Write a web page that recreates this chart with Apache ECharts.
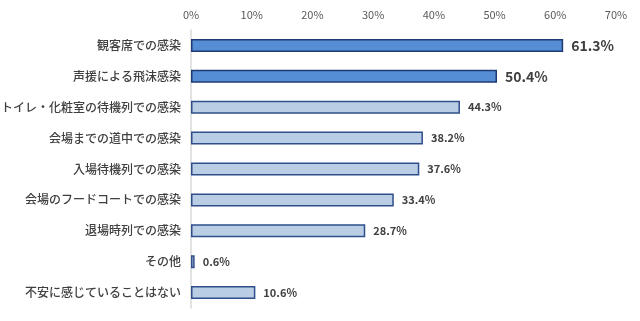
<!DOCTYPE html>
<html><head><meta charset="utf-8">
<script src="https://cdn.jsdelivr.net/npm/echarts@6/dist/echarts.min.js"></script>
<style>html,body{margin:0;padding:0;background:#fff}#c{width:640px;height:321px}</style>
</head><body><div id="c"></div>
<script>
const categories = ['観客席での感染','声援による飛沫感染','トイレ・化粧室の待機列での感染','会場までの道中での感染','入場待機列での感染','会場のフードコートでの感染','退場時列での感染','その他','不安に感じていることはない'];
const values = [61.3, 50.4, 44.3, 38.2, 37.6, 33.4, 28.7, 0.6, 10.6];
const highlighted = [true, true, false, false, false, false, false, false, false];
const xTicks = [0, 10, 20, 30, 40, 50, 60, 70];

const FONT = '"Noto Sans CJK JP", "Noto Sans", sans-serif';
const data = values.map((v, i) => ({
  value: v,
  itemStyle: highlighted[i]
    ? { color: '#558ED5', borderColor: '#1F3A73', borderWidth: 1.5 }
    : { color: '#B9CDE5', borderColor: '#2F4F8A', borderWidth: 1.5 },
  label: highlighted[i]
    ? { fontSize: 14, fontWeight: 'bold' }
    : { fontSize: 11, fontWeight: 'bold' }
}));

const chart = echarts.init(document.getElementById('c'), null, { renderer: 'canvas' });
chart.setOption({
  animation: false,
  grid: { left: 191, right: 24, top: 30, bottom: 13, containLabel: false, outerBoundsMode: 'none' },
  xAxis: {
    type: 'value', position: 'top', min: xTicks[0], max: xTicks[xTicks.length - 1], interval: 10,
    axisLine: { show: false }, axisTick: { show: false }, splitLine: { show: false },
    axisLabel: { formatter: v => v + '%', color: '#595959', fontSize: 11, fontFamily: FONT, margin: 10 }
  },
  yAxis: {
    type: 'category', inverse: true, data: categories,
    axisLine: { show: true, lineStyle: { color: '#D9D9D9', width: 1.5 } },
    axisTick: { show: false },
    axisLabel: { color: '#404040', fontSize: 12, fontWeight: 500, fontFamily: FONT, margin: 10 }
  },
  series: [{
    type: 'bar', data: data, barWidth: 13,
    label: { show: true, position: 'right', distance: 8, color: '#404040', fontFamily: FONT,
      formatter: p => p.value.toFixed(1) + '%' }
  }]
});
</script></body></html>
